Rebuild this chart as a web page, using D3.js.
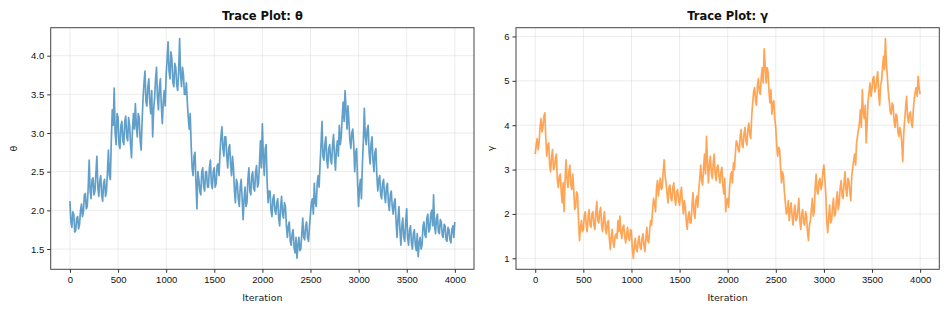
<!DOCTYPE html>
<html>
<head>
<meta charset="utf-8">
<script src="https://cdn.jsdelivr.net/npm/d3@7"></script>
<style>
  body { margin: 0; background: #fff; }
  svg { font-family: "DejaVu Sans", sans-serif; }
  .tick text { font-size: 9.5px; fill: #111; }
  .tick line { stroke: #333; }
  .domain { display: none; }
</style>
</head>
<body>
<svg width="949" height="310"></svg>
<script>
// trace values: one every 20 iterations (0, 20, ..., 3980, 3999)
const thetaValues = [
  2.12, 1.78, 1.95, 1.74, 1.92, 1.82, 2.08, 1.98, 2.22, 2.05,
  2.65, 2.15, 2.42, 2.25, 2.70, 2.18, 2.45, 2.12, 2.40, 2.25,
  2.78, 2.40, 3.30, 3.58, 2.85, 3.20, 2.80, 3.15, 2.85, 3.22,
  2.90, 3.10, 2.68, 3.25, 3.38, 2.95, 3.20, 2.78, 3.45, 3.80,
  3.35, 3.70, 3.25, 2.95, 3.45, 3.85, 3.30, 3.70, 3.12, 3.55,
  3.75, 4.18, 3.70, 3.95, 3.60, 3.85, 3.55, 4.22, 3.60, 3.75,
  3.50, 3.40, 3.05, 2.85, 2.45, 2.75, 2.02, 2.40, 2.20, 2.55,
  2.25, 2.50, 2.30, 2.65, 2.28, 2.55, 2.35, 2.60, 2.75, 3.08,
  2.70, 2.95, 2.55, 2.85, 2.45, 2.55, 2.10, 2.35, 2.05, 2.40,
  1.88, 2.30, 2.10, 2.55, 2.20, 2.50, 2.25, 2.58, 2.35, 2.90,
  3.12, 2.45, 2.85, 2.10, 2.25, 1.92, 2.20, 1.95, 2.15, 1.80,
  2.18, 1.90, 2.05, 1.65, 1.85, 1.55, 1.75, 1.45, 1.38, 1.65,
  1.50, 1.90, 1.62, 1.85, 1.60, 1.95, 2.15, 2.35, 2.05, 2.45,
  2.60, 3.15, 2.65, 2.95, 2.55, 2.85, 2.60, 2.98, 2.52, 2.90,
  3.10, 2.95, 3.40, 3.55, 3.05, 3.15, 2.80, 3.05, 2.50, 2.80,
  2.05, 2.40, 2.60, 3.32, 2.85, 3.10, 2.60, 2.95, 2.50, 2.80,
  2.25, 2.45, 2.15, 2.40, 2.10, 2.35, 2.00, 2.25, 1.95, 2.15,
  1.65, 2.05, 1.55, 1.90, 1.60, 2.02, 1.55, 1.80, 1.50, 1.75,
  1.48, 1.40, 1.65, 1.55, 1.85, 1.65, 1.95, 1.75, 2.00, 2.20,
  1.70, 1.95, 1.70, 1.85, 1.65, 1.80, 1.60, 1.75, 1.58, 1.80, 1.85
];
// values in between (10, 30, ..., 3990)
const thetaMid = [
  1.85, 1.98, 1.72, 1.90, 1.76, 2.00, 1.92, 2.20, 2.02, 2.30,
  2.25, 2.40, 2.20, 2.48, 2.30, 2.38, 2.20, 2.35, 2.18, 2.50,
  2.45, 2.90, 3.10, 3.00, 3.25, 2.85, 3.10, 2.90, 3.15, 2.95,
  3.20, 2.85, 3.05, 3.05, 3.10, 3.25, 2.90, 3.15, 3.65, 3.40,
  3.60, 3.40, 3.55, 3.30, 3.70, 3.45, 3.60, 3.35, 3.40, 3.35,
  3.95, 3.80, 4.05, 3.65, 3.90, 3.62, 3.80, 3.75, 3.85, 3.50,
  3.65, 3.20, 3.25, 2.55, 2.70, 2.35, 2.50, 2.25, 2.50, 2.30,
  2.50, 2.30, 2.55, 2.35, 2.50, 2.30, 2.58, 2.45, 2.95, 2.80,
  2.95, 2.70, 2.80, 2.60, 2.70, 2.25, 2.40, 2.15, 2.30, 2.15,
  2.15, 2.05, 2.40, 2.25, 2.45, 2.28, 2.50, 2.30, 2.60, 2.55,
  2.70, 2.80, 2.35, 2.25, 2.00, 2.15, 2.00, 2.10, 1.90, 2.05,
  1.95, 2.10, 1.80, 1.80, 1.60, 1.70, 1.52, 1.65, 1.55, 1.48,
  1.70, 1.65, 1.80, 1.65, 1.80, 2.10, 1.95, 2.10, 2.35, 2.30,
  2.85, 2.70, 2.85, 2.65, 2.80, 2.65, 2.85, 2.70, 2.80, 2.70,
  2.85, 3.20, 3.15, 3.30, 3.35, 2.90, 3.00, 2.85, 2.75, 2.35,
  2.30, 2.15, 2.90, 2.95, 3.05, 2.75, 2.85, 2.65, 2.75, 2.45,
  2.40, 2.20, 2.35, 2.20, 2.30, 2.10, 2.20, 2.05, 2.10, 1.85,
  1.90, 1.75, 1.80, 1.65, 1.85, 1.65, 1.75, 1.58, 1.70, 1.55,
  1.70, 1.58, 1.50, 1.80, 1.68, 1.90, 1.72, 1.95, 1.80, 1.80,
  1.90, 1.72, 1.88, 1.68, 1.82, 1.62, 1.78, 1.62, 1.75, 1.65
];

const gammaValues = [
  3.35, 3.70, 3.60, 4.15, 3.95, 4.28, 3.30, 3.60, 2.95, 3.45,
  3.05, 3.35, 2.60, 2.90, 2.25, 2.05, 3.22, 2.60, 3.10, 2.55,
  2.55, 2.15, 2.45, 1.40, 1.85, 1.65, 2.05, 1.60, 2.10, 1.70,
  2.05, 1.65, 2.28, 1.80, 2.15, 1.60, 2.05, 1.55, 1.85, 1.20,
  1.65, 1.25, 1.55, 1.85, 1.95, 1.45, 1.75, 1.35, 1.70, 1.40,
  1.60, 1.00, 1.45, 1.15, 1.50, 1.20, 1.55, 1.15, 1.70, 1.35,
  1.85, 2.10, 2.25, 2.55, 2.40, 2.80, 2.60, 3.22, 2.70, 2.25,
  2.65, 2.30, 2.70, 2.20, 2.55, 2.20, 2.60, 2.00, 2.15, 1.65,
  2.05, 1.80, 2.48, 1.90, 2.40, 2.55, 3.10, 2.65, 3.35, 3.75,
  2.70, 3.30, 2.80, 3.35, 2.75, 3.10, 2.70, 3.05, 2.45, 2.05,
  2.35, 2.60, 2.95, 3.15, 3.35, 3.60, 3.40, 3.90, 3.50, 3.95,
  3.55, 4.05, 3.70, 4.50, 4.85, 4.45, 5.05, 4.70, 5.30, 5.72,
  4.95, 5.20, 4.50, 4.25, 4.55, 3.95, 3.30, 3.45, 2.70, 2.85,
  2.25, 2.05, 1.85, 2.25, 1.75, 2.20, 1.90, 2.35, 1.65, 2.10,
  1.75, 1.95, 1.40, 1.85, 2.35, 2.05, 2.90, 2.45, 2.80, 2.65,
  3.10, 2.45, 1.58, 2.20, 1.85, 2.35, 2.00, 2.50, 2.25, 2.75,
  2.35, 2.95, 2.40, 2.75, 2.30, 3.05, 3.35, 3.60, 3.90, 4.35,
  4.80, 4.15, 3.60, 4.55, 4.95, 4.80, 5.10, 4.85, 5.20, 4.45,
  5.00, 5.55, 5.95, 5.10, 4.55, 4.25, 4.45, 3.95, 4.20, 3.75,
  3.85, 3.18, 4.10, 4.65, 4.05, 4.30, 3.95, 4.60, 4.85, 5.10, 4.70
];
const gammaMid = [
  3.55, 3.45, 3.95, 3.85, 4.20, 3.70, 3.55, 3.10, 3.30, 3.00,
  3.25, 2.75, 2.85, 2.50, 2.70, 2.75, 2.80, 2.95, 2.65, 2.90,
  2.10, 2.50, 1.85, 1.70, 1.60, 1.95, 1.75, 1.95, 1.75, 2.00,
  1.75, 2.05, 1.85, 2.05, 1.75, 1.90, 1.65, 1.80, 1.45, 1.50,
  1.35, 1.50, 1.45, 1.60, 1.60, 1.70, 1.50, 1.55, 1.45, 1.65,
  1.20, 1.30, 1.20, 1.40, 1.25, 1.45, 1.30, 1.45, 1.40, 1.65,
  1.75, 2.35, 2.05, 2.75, 2.65, 2.55, 2.95, 2.85, 2.45, 2.60,
  2.35, 2.60, 2.35, 2.50, 2.30, 2.45, 2.25, 2.30, 1.85, 1.95,
  1.80, 2.20, 2.05, 2.30, 2.15, 2.80, 2.75, 3.05, 2.90, 3.20,
  3.10, 2.95, 3.15, 2.90, 3.05, 2.85, 2.95, 2.65, 2.80, 2.30,
  2.15, 2.85, 2.70, 3.00, 3.65, 3.45, 3.75, 3.55, 3.80, 3.65,
  3.90, 3.80, 4.20, 4.75, 4.55, 4.90, 4.75, 5.10, 4.95, 5.35,
  5.30, 4.75, 4.80, 4.50, 4.15, 3.55, 3.50, 3.05, 2.95, 2.50,
  2.00, 2.30, 2.10, 1.95, 2.05, 1.85, 2.10, 1.85, 2.00, 1.80,
  2.05, 1.60, 1.75, 2.10, 1.95, 2.60, 2.50, 2.75, 2.55, 2.95,
  2.80, 1.85, 1.90, 1.80, 2.15, 1.95, 2.30, 2.10, 2.60, 2.40,
  2.70, 2.55, 2.80, 2.50, 2.85, 3.20, 3.10, 3.75, 4.05, 3.95,
  4.30, 4.45, 4.05, 4.75, 4.65, 5.05, 4.75, 5.05, 4.70, 4.90,
  5.30, 5.25, 5.40, 4.75, 4.30, 4.50, 4.10, 4.25, 3.85, 3.95,
  3.60, 3.80, 4.40, 4.20, 4.25, 4.05, 4.35, 4.75, 4.65, 4.85
];

const nIter = 4000;
const xTicks = [0, 500, 1000, 1500, 2000, 2500, 3000, 3500, 4000];
const thetaTicks = [1.5, 2.0, 2.5, 3.0, 3.5, 4.0];
const gammaTicks = [1, 2, 3, 4, 5, 6];

const svg = d3.select("svg");

// put the in-between readings back in iteration order
function interleave(a, b) {
  let out = [];
  a.forEach((v, i) => {
    out.push(v);
    if (i < b.length) out.push(b[i]);
  });
  return out;
}

function tracePanel(opts) {
  const m = opts.box;
  const g = svg.append("g");
  const vals = interleave(opts.values, opts.mid);
  const last = nIter - 1;
  const iters = vals.map((v, i) => i * last / (vals.length - 1));

  const pad = last * 0.05;
  const x = d3.scaleLinear().domain([-pad, last + pad]).range([m.left, m.right]);
  const lo = d3.min(vals), hi = d3.max(vals), dp = (hi - lo) * 0.05;
  const y = d3.scaleLinear().domain([lo - dp, hi + dp]).range([m.bottom, m.top]);

  // grid
  g.append("g").selectAll("line").data(xTicks).enter().append("line")
    .attr("x1", d => x(d)).attr("x2", d => x(d))
    .attr("y1", m.top).attr("y2", m.bottom)
    .attr("stroke", "#b0b0b0").attr("stroke-opacity", 0.3).attr("stroke-width", 0.8);
  g.append("g").selectAll("line").data(opts.yTicks).enter().append("line")
    .attr("y1", d => y(d)).attr("y2", d => y(d))
    .attr("x1", m.left).attr("x2", m.right)
    .attr("stroke", "#b0b0b0").attr("stroke-opacity", 0.3).attr("stroke-width", 0.8);

  const line = d3.line()
    .x((d, i) => x(iters[i]))
    .y(d => y(d));

  g.append("path")
    .datum(vals)
    .attr("d", line)
    .attr("fill", "none")
    .attr("stroke", opts.color)
    .attr("stroke-opacity", 0.7)
    .attr("stroke-width", 1.7)
    .attr("stroke-linejoin", "round");

  g.append("rect")
    .attr("x", m.left).attr("y", m.top)
    .attr("width", m.right - m.left).attr("height", m.bottom - m.top)
    .attr("fill", "none").attr("stroke", "#444").attr("stroke-width", 1);

  g.append("g")
    .attr("transform", "translate(0," + m.bottom + ")")
    .call(d3.axisBottom(x).tickValues(xTicks).tickSize(3.5).tickPadding(3).tickFormat(d3.format("d")));

  g.append("g")
    .attr("transform", "translate(" + m.left + ",0)")
    .call(d3.axisLeft(y).tickValues(opts.yTicks).tickSize(3.5).tickPadding(3).tickFormat(opts.fmt));

  g.append("text")
    .attr("x", (m.left + m.right) / 2)
    .attr("y", 20)
    .attr("text-anchor", "middle")
    .style("font-size", "11.5px")
    .style("font-weight", "bold")
    .attr("fill", "#111")
    .text(opts.title);

  g.append("text")
    .attr("x", (m.left + m.right) / 2)
    .attr("y", 301)
    .attr("text-anchor", "middle")
    .style("font-size", "9.5px")
    .attr("fill", "#222")
    .text("Iteration");

  g.append("text")
    .attr("transform", "translate(" + opts.ylabX + "," + ((m.top + m.bottom) / 2) + ") rotate(-90)")
    .attr("text-anchor", "middle")
    .attr("dy", "0.35em")
    .style("font-size", "9.5px")
    .attr("fill", "#222")
    .text(opts.ylabel);
}

tracePanel({
  box: { left: 50.7, right: 474, top: 27.7, bottom: 269.3 },
  values: thetaValues, mid: thetaMid, color: "#1f77b4", yTicks: thetaTicks, fmt: d3.format(".1f"),
  title: "Trace Plot: θ", ylabel: "θ", ylabX: 14
});

tracePanel({
  box: { left: 516, right: 939.3, top: 27.7, bottom: 269.3 },
  values: gammaValues, mid: gammaMid, color: "#ff7f0e", yTicks: gammaTicks, fmt: d3.format("d"),
  title: "Trace Plot: γ", ylabel: "γ", ylabX: 491
});
</script>
</body>
</html>
